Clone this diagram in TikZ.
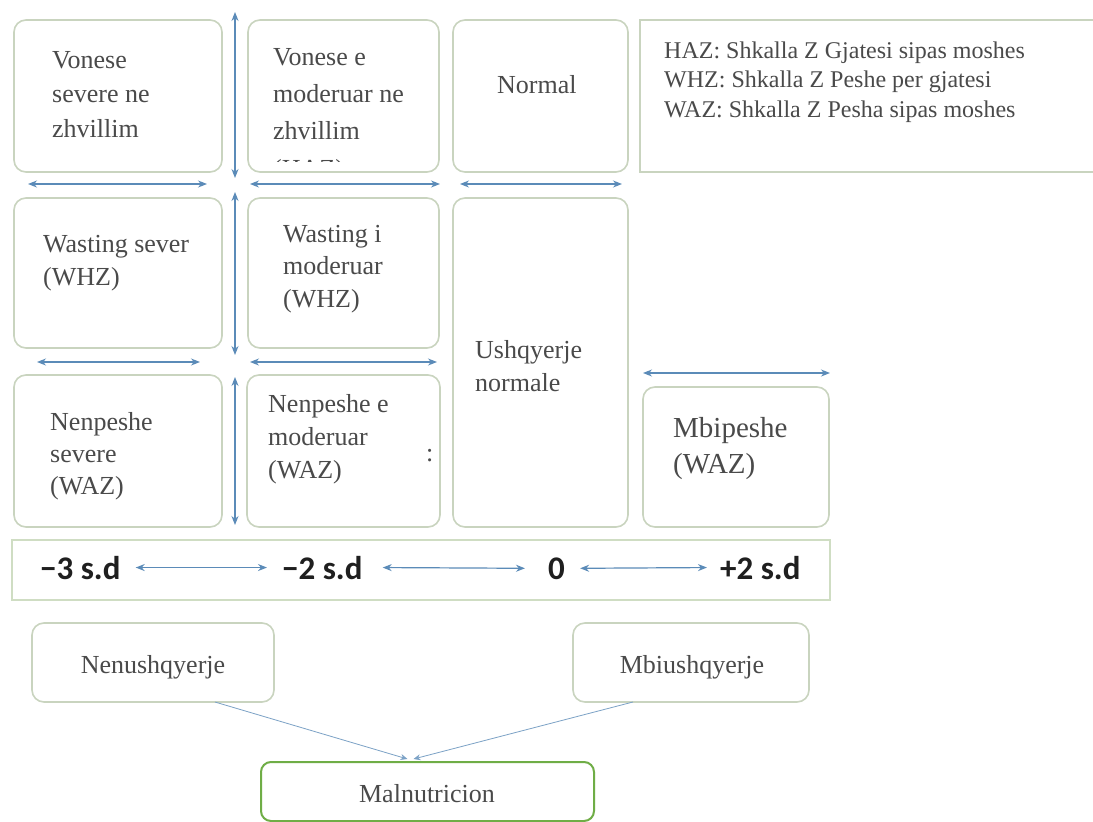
\documentclass[tikz,border=0pt]{standalone}
\usepackage{fontspec}
\setmainfont{Liberation Serif}
\newfontfamily\sdfont{Carlito}
\usetikzlibrary{arrows.meta,calc}

\definecolor{boxline}{HTML}{C9D4BF}
\definecolor{barline}{HTML}{CFDDC3}
\definecolor{arrowblue}{HTML}{5B8BB8}
\definecolor{txtgray}{HTML}{4A4A4A}
\definecolor{malgreen}{HTML}{6FAD46}

\tikzset{
  cell/.style={draw=boxline, line width=1.6pt, rounded corners=12pt, fill=white,
    inner sep=0pt, outer sep=0pt, anchor=north west},
  flatbox/.style={draw=#1, line width=1.6pt, fill=white, inner sep=0pt,
    outer sep=0pt, anchor=north west},
  % multi-line labels sit on the baseline of their last line
  lbl/.style={text=txtgray, align=left, inner sep=0pt, anchor=base west,
    font=\fontsize{26pt}{#1pt}\selectfont},
  legendtext/.style={text=txtgray, align=left, inner sep=0pt, anchor=base west,
    font=\fontsize{24pt}{29.5pt}\selectfont},
  sdlabel/.style={text=black!88, inner sep=0pt, anchor=base west,
    font=\sdfont\bfseries\fontsize{33pt}{36pt}\selectfont},
  biarrow/.style={draw=arrowblue, line width=1.2pt,
    {Stealth[length=9pt,width=7pt]}-{Stealth[length=9pt,width=7pt]}},
  feed/.style={draw=arrowblue!80, line width=0.8pt,
    -{Stealth[length=7pt,width=6pt]}},
}

\begin{document}
\begin{tikzpicture}[x=1pt,y=-1pt]
\useasboundingbox (0,0) rectangle (1093,822);
\clip (0,0) rectangle (1093,822);
\fill[white] (0,0) rectangle (1093,822);

% --- grid of categories ---
\node[cell, minimum width=208pt, minimum height=152pt] (stuntsev) at (14,20) {};
\node[cell, minimum width=191pt, minimum height=152pt] (stuntmod) at (248,20) {};
\node[cell, minimum width=175pt, minimum height=152pt] (normal) at (453,20) {};
\node[flatbox=boxline, minimum width=470pt, minimum height=152pt] (legend) at (640,20) {};

\node[cell, minimum width=208pt, minimum height=150pt] (wastsev) at (14,198) {};
\node[cell, minimum width=191pt, minimum height=150pt] (wastmod) at (248,198) {};
\node[cell, minimum width=175pt, minimum height=329pt] (normnutr) at (453,198) {};

\node[cell, minimum width=208pt, minimum height=152pt] (undersev) at (14,375) {};
\node[cell, minimum width=193pt, minimum height=152pt] (undermod) at (247,375) {};
\node[cell, minimum width=186pt, minimum height=140pt] (overw) at (643,387) {};

% --- texts in the cells ---
\node[lbl=34.5] (tstuntsev) at (52,137) {Vonese\\severe ne\\zhvillim};
\node[lbl=37] (tstuntmod) at (273,139) {Vonese e\\moderuar ne\\zhvillim};
\begin{scope}
  \clip (260,157.5) rectangle (360,161);
  \node[lbl=37] (tstuntcut) at (273,177) {(HAZ)};
\end{scope}
\node[lbl=34] (tnormal) at (497,93) {Normal};
\node[legendtext] (tlegend) at (664,117)
  {HAZ: Shkalla Z Gjatesi sipas moshes\\WHZ: Shkalla Z Peshe per gjatesi\\WAZ: Shkalla Z Pesha sipas moshes};

\node[lbl=33] (twastsev) at (43,285) {Wasting sever\\(WHZ)};
\node[lbl=32.5] (twastmod) at (283,307) {Wasting i\\moderuar\\(WHZ)};
\node[lbl=33] (tnormnutr) at (475,391) {Ushqyerje\\normale};

\node[lbl=32] (tundersev) at (50,494) {Nenpeshe\\severe\\(WAZ)};
\node[lbl=33] (tundermod) at (268,478) {Nenpeshe e\\moderuar\\(WAZ)};
\node[lbl=26] (tcolon) at (426,461) {:};
\node[text=txtgray, align=left, inner sep=0pt, anchor=base west,
  font=\fontsize{29pt}{36pt}\selectfont] (toverw) at (673,473) {Mbipeshe\\(WAZ)};

% --- arrows along the cell boundaries ---
\coordinate (v1a) at (235,12);  \coordinate (v1b) at (235,178);
\coordinate (v2a) at (235,192); \coordinate (v2b) at (235,355);
\coordinate (v3a) at (235,377); \coordinate (v3b) at (235,525);
\draw[biarrow] (v1a) -- (v1b);
\draw[biarrow] (v2a) -- (v2b);
\draw[biarrow] (v3a) -- (v3b);

\coordinate (h1a) at (28,184);  \coordinate (h1b) at (207,184);
\coordinate (h2a) at (250,184); \coordinate (h2b) at (440,184);
\coordinate (h3a) at (460,184); \coordinate (h3b) at (622,184);
\coordinate (h4a) at (37,362);  \coordinate (h4b) at (200,362);
\coordinate (h5a) at (250,362); \coordinate (h5b) at (437,362);
\coordinate (h6a) at (643,373); \coordinate (h6b) at (830,373);
\draw[biarrow] (h1a) -- (h1b);
\draw[biarrow] (h2a) -- (h2b);
\draw[biarrow] (h3a) -- (h3b);
\draw[biarrow] (h4a) -- (h4b);
\draw[biarrow] (h5a) -- (h5b);
\draw[biarrow] (h6a) -- (h6b);

% --- standard deviation scale ---
\node[flatbox=barline, minimum width=818pt, minimum height=60pt] (sdbar) at (12,540) {};
\node[sdlabel] (sdm3) at (40,579) {−3 s.d};
\node[sdlabel] (sdm2) at (282,579) {−2 s.d};
\node[sdlabel] (sdz) at (548,579) {0};
\node[sdlabel] (sdp2) at (720,579) {+2 s.d};
\draw[biarrow] ([xshift=15pt]sdm3.east) -- ([xshift=-15pt]sdm2.west);
\draw[biarrow] ([xshift=20pt]sdm2.east) -- ([xshift=-23pt]sdz.west);
\draw[biarrow] ([xshift=15pt]sdz.east) -- ([xshift=-13pt]sdp2.west);

% --- summary boxes ---
\node[cell, minimum width=242pt, minimum height=79pt] (under) at (32,623) {};
\node[cell, minimum width=236pt, minimum height=79pt] (over) at (573,623) {};
\node[cell, draw=malgreen, line width=2pt, rounded corners=10pt,
  minimum width=333pt, minimum height=59pt] (maln) at (261,762) {};

\node[lbl=30, anchor=base] (tunder) at (153,673) {Nenushqyerje};
\node[lbl=30, anchor=base] (tover) at (692,673) {Mbiushqyerje};
\node[lbl=30, anchor=base] (tmaln) at (427,802) {Malnutricion};

\draw[feed] ($(under.south west)!0.756!(under.south east)$) -- ([xshift=-20pt,yshift=3pt]maln.north);
\draw[feed] ($(over.south west)!0.254!(over.south east)$) -- ([xshift=-14pt,yshift=3pt]maln.north);
\end{tikzpicture}
\end{document}
